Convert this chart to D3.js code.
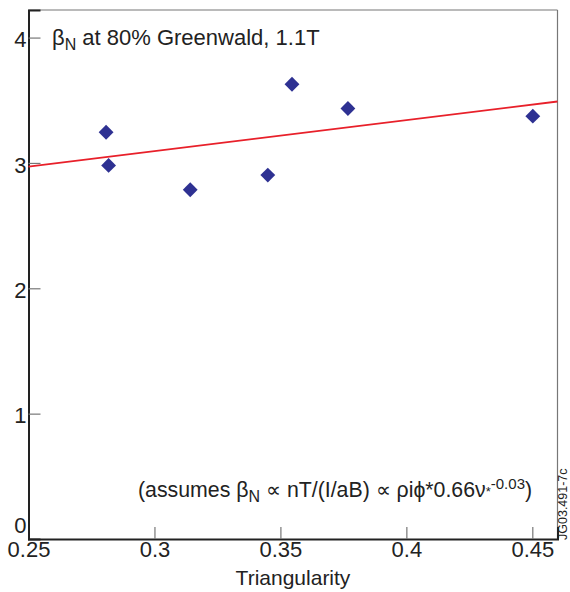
<!DOCTYPE html>
<html lang="en">
<head>
    <meta charset="UTF-8">
    <title>Beta N vs Triangularity</title>
    <script src="https://d3js.org/d3.v7.min.js"></script>
    <style>
        body { margin: 0; background: #fff; }
        text { font-family: "Liberation Sans", Arial, sans-serif; fill: #222; }
    </style>
</head>
<body>
    <div id="chart"></div>

    <script>
        // data
        const triang = [0.2808, 0.2818, 0.3142, 0.3450, 0.3546, 0.3768, 0.4502];
        const betaN = [3.245, 2.98, 2.786, 2.903, 3.628, 3.434, 3.373];
        const fitX = [0.25, 0.46];
        const fitY = [2.97, 3.49];
        const xTicks = [0.25, 0.3, 0.35, 0.4, 0.45];
        const yTicks = [0, 1, 2, 3, 4];

        const W = 570, H = 592;
        const mLeft = 28.5, mRight = 557.5, mTop = 10, mBottom = 539;

        const svg = d3.select("#chart").append("svg").attr("width", W).attr("height", H);

        const x = d3.scaleLinear().domain([0.25, 0.46]).range([mLeft, mRight]);
        const y = d3.scaleLinear().domain([0, 4.22]).range([mBottom, mTop]);

        // frame (top / right, light)
        svg.append("line").attr("x1", mLeft).attr("x2", mRight).attr("y1", mTop).attr("y2", mTop)
            .attr("stroke", "#777").attr("stroke-width", 1.2);
        svg.append("line").attr("x1", mRight).attr("x2", mRight).attr("y1", mTop).attr("y2", mBottom)
            .attr("stroke", "#777").attr("stroke-width", 1.2);

        // x axis, inward ticks
        const xAxis = svg.append("g").attr("transform", `translate(0,${mBottom})`)
            .call(d3.axisBottom(x).tickValues(xTicks).tickSize(-12).tickPadding(2)
                .tickFormat(d => String(+d.toFixed(2))));
        xAxis.select(".domain").attr("stroke", "#222").attr("stroke-width", 2);
        xAxis.selectAll(".tick line").attr("stroke", "#777").attr("stroke-width", 1.2);
        xAxis.selectAll(".tick text").attr("font-size", 22).attr("fill", "#222")
            .style("font-family", "Liberation Sans, Arial, sans-serif");
        xAxis.selectAll(".tick").filter(d => d === 0.25).select("line").remove();

        // y axis, inward ticks
        const yAxis = svg.append("g").attr("transform", `translate(${mLeft},0)`)
            .call(d3.axisLeft(y).tickValues(yTicks).tickSize(-12).tickPadding(2).tickFormat(d3.format("d")));
        yAxis.select(".domain").attr("stroke", "#222").attr("stroke-width", 2);
        yAxis.selectAll(".tick line").attr("stroke", "#777").attr("stroke-width", 1.2);
        yAxis.selectAll(".tick text").attr("font-size", 22).attr("fill", "#222")
            .style("font-family", "Liberation Sans, Arial, sans-serif")
            .attr("dy", d => d === 0 ? "-0.3em" : "0.42em");
        yAxis.selectAll(".tick").filter(d => d === 0).select("line").remove();

        // axis title
        svg.append("text").attr("x", (mLeft + mRight) / 2 + 0).attr("y", 585)
            .attr("text-anchor", "middle").attr("font-size", 21).text("Triangularity");

        // fit line
        svg.append("path")
            .datum(fitX.map((d, i) => [d, fitY[i]]))
            .attr("d", d3.line().x(d => x(d[0])).y(d => y(d[1])))
            .attr("fill", "none").attr("stroke", "#e8202a").attr("stroke-width", 1.8);

        // diamonds
        const diamond = d3.symbol().type(d3.symbolSquare).size(110);
        svg.append("g").selectAll("path")
            .data(triang.map((d, i) => [d, betaN[i]]))
            .join("path")
            .attr("d", diamond)
            .attr("transform", d => `translate(${x(d[0])},${y(d[1])}) rotate(45)`)
            .attr("fill", "#2e3192");

        // title
        const title = svg.append("text").attr("x", 52).attr("y", 45).attr("font-size", 22);
        title.append("tspan").text("β");
        title.append("tspan").attr("font-size", 16).attr("dy", 5).text("N");
        title.append("tspan").attr("dy", -5).text(" at 80% Greenwald, 1.1T");

        // formula note
        const note = svg.append("text").attr("x", 138).attr("y", 497).attr("font-size", 21.3);
        note.append("tspan").text("(assumes β");
        note.append("tspan").attr("font-size", 16).attr("dy", 5).text("N");
        note.append("tspan").attr("dy", -5).text(" ∝ nT/(I/aB) ∝ ρiϕ*0.66ν");
        note.append("tspan").attr("font-size", 13).attr("dy", -1).text("*");
        note.append("tspan").attr("font-size", 15).attr("dy", -7).text("-0.03");
        note.append("tspan").attr("dy", 8).text(")");

        // figure id
        svg.append("text").attr("transform", "translate(567,540) rotate(-90)")
            .attr("font-size", 12.5).text("JG03.491-7c");
    </script>
</body>
</html>
